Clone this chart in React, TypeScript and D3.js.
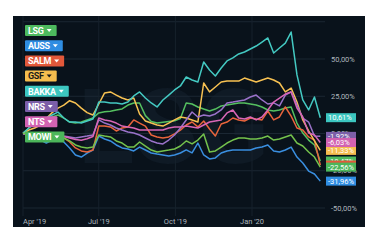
import React from "react";
import * as d3 from "d3";

const names = ["LSG", "AUSS", "SALM", "GSF", "BAKKA", "NRS", "NTS", "MOWI"];
const colors = ["#4dba5e", "#2f8de2", "#e2583a", "#f5bd4e", "#3cc6c0", "#7c5fa9", "#d262b2", "#4cb65a"];
const lineColors = ["#55c060", "#3a8fe0", "#e8643c", "#f7c152", "#44c9c2", "#9a72c9", "#d866b6", "#74c24c"];

const startDate = new Date(2019, 3, 1);
const dates = d3.range(52).map((i) => d3.timeDay.offset(startDate, 7 * i));

const LSG = [0, 3.7, 6.4, 9.1, 10.4, 11.1, 12.4, 10.4, 7.7, 7, 7.7, 9.1, 10.4, 13.8, 14.6, 15, 15.8, 16.5, 19.1, 20.5, 20.5, 12, 8, 7, 7.5, 8, 8.5, 10, 20.5, 19.8, 17.8, 16.4, 15.1, 16.4, 18.5, 19.1, 19.8, 20.5, 20.5, 19.8, 19.1, 17.8, 15.8, 15.1, 15.8, 17.1, 17.8, 7, 0.3, -4.4, -7.7, -18.47];
const AUSS = [0, -1, -2.3, -4.4, -6.4, -4.4, -3, -5.7, -9.7, -14.4, -15.8, -13.1, -11.1, -1.7, -3.7, -5, -7.7, -9.7, -10.4, -11.7, -9.1, -11.1, -13.1, -13.8, -14.4, -15.1, -14.4, -13.1, -11, -13, -6.4, -14.4, -17.1, -16.4, -13.1, -11.7, -11.1, -11.1, -11.1, -11.1, -9.7, -9.1, -7.7, -11.7, -12.4, -11.1, -9.1, -15.8, -19.8, -25.2, -27.2, -31.96];
const SALM = [0, -0.3, -1, -1.7, -1.7, -1, -1.7, -3, -5.7, -9.7, -11.7, -12.4, -11.1, 5, 5, 4.4, 1.7, 3.7, 4.4, 9.1, 7, 5, -1, -2.3, -3, -2.3, -0.3, 2.3, 5.7, 7.7, 4.4, 8.4, 3, -1.7, 6.4, 7.7, 10.4, 9.1, 8.4, 10.4, 9.7, 9.1, 15.1, 9.1, 11.1, 17.8, 11.7, 3.7, 2.3, -2.3, -4.4, -21.2];
const GSF = [0, 2.3, 3.7, 5.7, 10, 14, 17, 19, 22, 20.5, 17, 14, 12.4, 19.8, 27.2, 27.9, 25.8, 23.8, 22.5, 23.8, 13.1, 8.4, 7, 5.7, 5, 7, 9.1, 11.1, 10.4, 9.1, 7.7, 33.9, 27.9, 31.2, 34.6, 35.2, 35.2, 35.2, 37.2, 35.9, 34.6, 35.9, 37.2, 35.9, 33.9, 27.9, 30.5, 21.1, 9.1, 1.7, -5, -11.33];
const BAKKA = [0.3, 3.7, 6.4, 9, 10.4, 12.4, 14.4, 10.4, 7.7, 7.7, 7, 8.4, 9.7, 21.1, 21.1, 20.5, 20.5, 19.8, 21.1, 25.2, 27.9, 23.8, 20.5, 17.8, 22.5, 25.8, 29.2, 31.9, 37.9, 35.9, 34.6, 48, 42.6, 38.6, 44, 48.7, 50.7, 53.4, 54.7, 56.7, 58.7, 61.4, 64.1, 54, 57.4, 60.7, 68.1, 39.3, 22.5, 15.8, 24.5, 10.61];
const NRS = [0, -0.7, -1.3, -1, -0.3, 0.3, -0.7, -1.7, -2.3, -3, -2.3, -1.7, -1, 9.1, 7, 5.7, 3.7, 2.3, 1, 0.3, -1, -3, -5, -6.4, -7, -4.4, -1, 3.7, 9.1, 14.4, 11.1, 12.4, 11.7, 13.1, 15.8, 20.5, 21.1, 21.8, 22.5, 24.5, 25.8, 22.5, 19.8, 20.5, 18.5, 25.8, 27.9, 19.1, 10.4, 7.7, -1.7, -1.92];
const NTS = [0, -0.5, -1, -2, -1.5, -1, -1.5, -2, -3, -4, -4.5, -3.5, -2, 10.4, 9.1, 8.4, 7, 5, 4.4, 3.7, 2.3, 2.3, 2.3, 2.3, 2.3, 3.7, 4.4, 4.4, 5, 4.4, 3.7, 5.7, 7.7, 8.4, 9.1, 13.8, 15.8, 10.4, 9.7, 11.1, 9.1, 11.1, 15.8, 21.1, 23.8, 26.5, 27.9, 17.1, 11.1, 0.3, -1, -6.03];
const MOWI = [0, 0.3, -0.3, -1.7, -1, -0.3, -1, -3, -5, -7.7, -9.1, -9.7, -9.1, -1, -1.7, -2.3, -5, -6.4, -9.1, -9.1, -5.7, -8.4, -11.1, -12.4, -11.7, -11.1, -10.4, -8.4, -5, -7, -4.4, -0.3, -12.4, -11.7, -9.1, -6.4, -4.4, -3, -3, -3.7, -3.7, -3, -1.7, -4.4, -3.7, -2.3, -1, -6.4, -8.4, -12.4, -15.8, -22.56];

const series = [LSG, AUSS, SALM, GSF, BAKKA, NRS, NTS, MOWI];

const yTicks = [-50, -25, 0, 25, 50, 75];
const yLabelTicks = [-50, -25, 0, 25, 50];
const xTicks = [new Date(2019, 3, 1), new Date(2019, 6, 1), new Date(2019, 9, 1), new Date(2020, 0, 1)];
const xTickLabels = ["Apr '19", "Jul '19", "Oct '19", "Jan '20"];

const fmt = (v: number) => v.toFixed(2).replace(".", ",") + "%";

function measure(text: string, font: string, ls: number) {
  const c = document.createElement("canvas").getContext("2d");
  if (!c) return text.length * 6;
  c.font = font;
  return c.measureText(text).width + ls * text.length;
}

export default function App() {
  const x = d3.scaleTime().domain([new Date(2019, 3, 1), new Date(2020, 0, 1)]).range([23, 252]);
  const y = d3.scaleLinear().domain([-50, 50]).range([208, 59]);
  const line = d3
    .line<number>()
    .x((_, i) => x(dates[i]))
    .y((d) => y(d));

  const font = "Roboto, 'Noto Sans', sans-serif";
  const legendFont = "bold 9px Roboto";
  const ls = -0.3;

  return (
    <svg width={383} height={246} style={{ position: "absolute", left: 0, top: 0 }} fontFamily={font}>
      <rect x={0} y={0} width={383} height={246} fill="#ffffff" />
      <rect x={13} y={16} width={352} height={211} fill="#09121b" />
      <text x={78} y={163} fontSize={104} fontWeight="bold" fill="#0f1a25" fontFamily={font}>
        LSG
      </text>
      {yTicks.map((t) => (
        <line key={"gy" + t} x1={23} x2={325} y1={y(t)} y2={y(t)} stroke="#1b2733" strokeWidth={1} />
      ))}
      {xTicks.map((t, i) => (
        <line key={"gx" + i} x1={x(t)} x2={x(t)} y1={16} y2={216} stroke="#16212c" strokeWidth={1} />
      ))}
      {yLabelTicks.map((t) => (
        <text key={"ly" + t} x={331} y={y(t)} dy="0.35em" fontSize={7.5} fill="#aeb6be">
          {fmt(t)}
        </text>
      ))}
      {xTicks.map((t, i) => (
        <text
          key={"lx" + i}
          x={x(t)}
          y={223.5}
          fontSize={7.5}
          fill="#aeb6be"
          textAnchor={i === 0 ? "start" : "middle"}
        >
          {xTickLabels[i]}
        </text>
      ))}
      {series.map((s, i) => (
        <path
          key={"s" + i}
          d={line(s) || ""}
          fill="none"
          stroke={lineColors[i]}
          strokeWidth={1.5}
          strokeLinejoin="round"
        />
      ))}
      {series.map((s, i) => {
        const v = s[s.length - 1];
        const cy = y(v);
        return (
          <g key={"b" + i}>
            <rect x={326} y={cy - 4.5} width={30} height={9} fill={colors[i]} />
            <text x={328} y={cy} dy="0.35em" fontSize={7.5} fill="#ffffff">
              {fmt(v)}
            </text>
          </g>
        );
      })}
      {names.map((n, i) => {
        const tw = measure(n, legendFont, ls);
        const w = 3 + tw + 3 + 5 + 5;
        const top = 25 + i * 15.2;
        const tc = n === "GSF" ? "#1a1a1a" : "#ffffff";
        const ax = 3 + tw + 3 + 25;
        return (
          <g key={"lg" + i}>
            <rect x={25} y={top} width={w} height={11} fill={colors[i]} rx={1} />
            <text
              x={28}
              y={top + 5.5}
              dy="0.36em"
              fontSize={9}
              fontWeight="bold"
              fill={tc}
              letterSpacing={ls}
              fontFamily="Roboto"
            >
              {n}
            </text>
            <path d={`M${ax},${top + 4} L${ax + 5},${top + 4} L${ax + 2.5},${top + 7} Z`} fill={tc} />
          </g>
        );
      })}
    </svg>
  );
}
